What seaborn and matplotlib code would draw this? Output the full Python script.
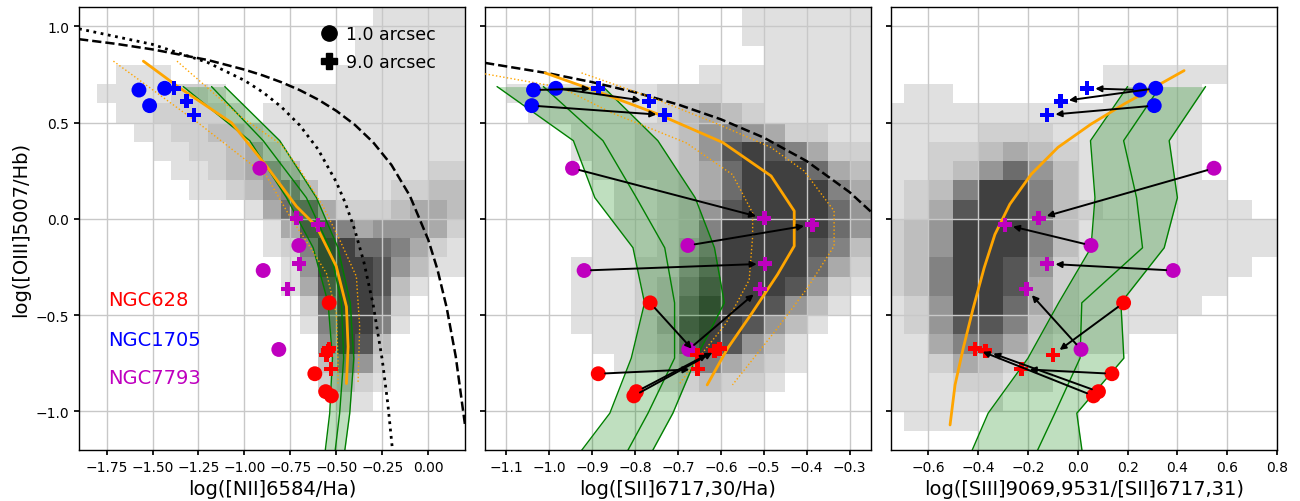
import numpy as np
import pandas as pd
import matplotlib
matplotlib.use("Agg")
import matplotlib.pyplot as plt
from matplotlib.colors import ListedColormap
from matplotlib.lines import Line2D
import seaborn as sns

# ---- HII regions: 1.0 arcsec aperture (circles) and 9.0 arcsec aperture (plus)
galaxy = ['NGC628'] * 4 + ['NGC1705'] * 3 + ['NGC7793'] * 4
o3hb_1 = [-0.436, -0.804, -0.897, -0.919, 0.669, 0.678, 0.588, 0.263, -0.138, -0.268, -0.678]
o3hb_9 = [-0.706, -0.780, -0.685, -0.674, 0.678, 0.610, 0.539, 0.003, -0.030, -0.233, -0.364]
n2ha_1 = [-0.539, -0.617, -0.558, -0.527, -1.574, -1.434, -1.516, -0.916, -0.704, -0.898, -0.813]
n2ha_9 = [-0.554, -0.530, -0.545, -0.540, -1.384, -1.315, -1.275, -0.717, -0.599, -0.701, -0.764]
s2ha_1 = [-0.765, -0.886, -0.797, -0.803, -1.037, -0.985, -1.041, -0.946, -0.677, -0.919, -0.675]
s2ha_9 = [-0.655, -0.654, -0.615, -0.603, -0.886, -0.768, -0.731, -0.499, -0.387, -0.497, -0.509]
s3s2_1 = [0.184, 0.137, 0.083, 0.063, 0.249, 0.313, 0.307, 0.547, 0.053, 0.383, 0.013]
s3s2_9 = [-0.100, -0.227, -0.371, -0.413, 0.037, -0.069, -0.123, -0.157, -0.293, -0.123, -0.207]

gal_colors = {'NGC628': '#ff0000', 'NGC1705': '#0000ff', 'NGC7793': '#bf00bf'}

# ---- demarcation curves
kew_nii_x = [-1.9, -1.7, -1.5, -1.2, -1.0, -0.9, -0.8, -0.7, -0.6, -0.5, -0.4, -0.3, -0.2, -0.1, 0.0, 0.05, 0.1, 0.15, 0.2]
kew_nii_y = [0.933, 0.909, 0.880, 0.825, 0.775, 0.745, 0.710, 0.669, 0.620, 0.561, 0.489, 0.398, 0.280, 0.120, -0.108, -0.262, -0.459, -0.716, -1.069]
kau_nii_x = [-1.9, -1.5, -1.2, -1.0, -0.9, -0.8, -0.7, -0.6, -0.5, -0.45, -0.4, -0.35, -0.3, -0.25, -0.22, -0.19]
kau_nii_y = [0.987, 0.906, 0.812, 0.719, 0.658, 0.582, 0.487, 0.362, 0.191, 0.080, -0.056, -0.225, -0.443, -0.733, -0.959, -1.242]
kew_sii_x = [-1.15, -1.0, -0.9, -0.8, -0.7, -0.6, -0.5, -0.4, -0.3, -0.25]
kew_sii_y = [0.810, 0.755, 0.710, 0.657, 0.594, 0.517, 0.422, 0.300, 0.139, 0.037]

# ---- orange model tracks
orn_nii_x = [-1.550, -1.357, -1.070, -0.880, -0.717, -0.608, -0.500, -0.445, -0.436, -0.445]
orn_nii_y = [0.819, 0.683, 0.499, 0.274, 0.065, -0.039, -0.247, -0.456, -0.664, -0.855]
orn_nii_lo_x = [-1.713, -1.242, -0.880, -0.753, -0.645, -0.554, -0.500, -0.491, -0.491]
orn_nii_lo_y = [0.819, 0.491, 0.222, 0.013, -0.143, -0.282, -0.490, -0.733, -0.855]
orn_nii_hi_x = [-1.367, -1.025, -0.799, -0.699, -0.572, -0.482, -0.391, -0.373, -0.382]
orn_nii_hi_y = [0.819, 0.534, 0.386, 0.256, 0.065, -0.108, -0.299, -0.560, -0.855]

orn_sii_x = [-1.010, -0.894, -0.747, -0.596, -0.483, -0.429, -0.429, -0.468, -0.530, -0.584, -0.632]
orn_sii_y = [0.758, 0.666, 0.544, 0.397, 0.223, 0.041, -0.141, -0.289, -0.497, -0.671, -0.862]
orn_sii_lo_x = [-1.150, -0.972, -0.855, -0.681, -0.573, -0.526, -0.526, -0.534, -0.588, -0.650, -0.696]
orn_sii_lo_y = [0.753, 0.682, 0.551, 0.395, 0.230, 0.031, -0.091, -0.317, -0.542, -0.716, -0.855]
orn_sii_hi_x = [-0.925, -0.762, -0.607, -0.483, -0.406, -0.336, -0.336, -0.398, -0.468, -0.573]
orn_sii_hi_y = [0.758, 0.631, 0.492, 0.371, 0.249, 0.041, -0.141, -0.358, -0.567, -0.862]

orn_s3_x = [0.427, 0.307, 0.187, 0.053, -0.080, -0.187, -0.273, -0.333, -0.376, -0.420, -0.460, -0.493, -0.513]
orn_s3_y = [0.770, 0.683, 0.597, 0.492, 0.371, 0.232, 0.076, -0.081, -0.254, -0.463, -0.671, -0.862, -1.070]

# ---- green model bands (shared O3Hb levels)
band_o3hb = [0.687, 0.406, 0.110, -0.150, -0.436, -0.723, -1.009, -1.296]
band_nii_lo = [-1.333, -0.971, -0.771, -0.626, -0.545, -0.521, -0.536, -0.572]
band_nii_mid = [-1.179, -0.898, -0.663, -0.536, -0.472, -0.460, -0.482, -0.518]
band_nii_hi = [-1.107, -0.808, -0.608, -0.491, -0.424, -0.405, -0.427, -0.467]
band_sii_lo = [-1.122, -0.944, -0.894, -0.805, -0.778, -0.809, -0.859, -0.957]
band_sii_mid = [-1.014, -0.875, -0.797, -0.731, -0.708, -0.708, -0.770, -0.840]
band_sii_hi = [-0.875, -0.747, -0.660, -0.615, -0.592, -0.658, -0.712, -0.782]
band_s3_lo = [0.200, 0.051, 0.069, 0.053, -0.077, -0.200, -0.360, -0.456]
band_s3_mid = [0.331, 0.184, 0.236, 0.260, 0.016, 0.009, -0.092, -0.196]
band_s3_hi = [0.513, 0.367, 0.400, 0.347, 0.173, 0.185, -0.004, 0.027]

# ---- background galaxy density (0.1 dex rows from y=1.1 down; '.' = empty, 1-9 = grey level)
dens_nii = [
    "................11111",
    "...............111111",
    "...............111111",
    "..111.........1111111",
    ".1111221...1111111111",
    "..1122221.11111111111",
    "...112233211111111111",
    "....11223421111111111",
    ".....1123453111111122",
    "......112356311112233",
    ".........147742223443",
    "..........14886455542",
    "..........12699776421",
    "...........1599985311",
    "...........14899831..",
    "............279972...",
    "............169961...",
    ".............5983....",
    ".............3652....",
    ".............2321....",
    "..............11.....",
    ".....................",
    ".....................",
]
dens_sii = [
    "............111111",
    "............111111",
    ".............11111",
    "..........11111111",
    ".11111112221111111",
    "..1111112343211111",
    "....11122356542211",
    "....11122358986422",
    ".....1122347999743",
    "......112347999964",
    "......112358999975",
    ".....1112369999975",
    ".....1112469999863",
    "....11122579999742",
    "....11123689998521",
    "....1112379998531.",
    "....111248998531..",
    ".....1123798531...",
    "......112464321...",
    "........123221....",
    ".........1111.....",
    "..................",
    "..................",
]
dens_s3 = [
    "................",
    "................",
    "................",
    ".........11111..",
    ".11......1111...",
    "1111111111111...",
    "1111222111111...",
    "1122343211111...",
    "1123575311111...",
    "12369963111111..",
    "124899632111111.",
    "2359996311111111",
    "2359996311111111",
    "236998521111111.",
    "23699842111111..",
    "1259974211111...",
    "125886321111....",
    "1146642111......",
    "11243211........",
    "1112211.........",
    "11111...........",
    ".111............",
    "................",
]

df = pd.DataFrame({'galaxy': galaxy, 'o3hb_1': o3hb_1, 'o3hb_9': o3hb_9,
                   'n2ha_1': n2ha_1, 'n2ha_9': n2ha_9, 's2ha_1': s2ha_1, 's2ha_9': s2ha_9,
                   's3s2_1': s3s2_1, 's3s2_9': s3s2_9})

sns.set_theme(style="ticks", color_codes=False, rc={
    'axes.grid': True, 'grid.color': '#c8c8c8', 'grid.linewidth': 1.0,
    'axes.edgecolor': 'black', 'axes.linewidth': 1.0,
    'xtick.labelsize': 10, 'ytick.labelsize': 10, 'axes.labelsize': 14,
    'xtick.major.size': 3.5, 'ytick.major.size': 3.5,
    'xtick.color': 'black', 'ytick.color': 'black', 'text.color': 'black',
    'axes.labelcolor': 'black',
})
plt.rcParams['font.family'] = ['DejaVu Sans']

grey_cmap = ListedColormap(['#e0e0e0', '#d0d0d0', '#bebebe', '#aaaaaa', '#969696',
                            '#828282', '#6c6c6c', '#565656', '#404040'])


def draw_density(ax, rows, x0, dx):
    ncol = max(len(r) for r in rows)
    grid = np.array([[0 if c == '.' else int(c) for c in r.ljust(ncol, '.')] for r in rows], float)
    grid = np.ma.masked_equal(grid[::-1], 0)
    x_edges = x0 + dx * np.arange(ncol + 1)
    y_edges = 1.1 - 0.1 * np.arange(len(rows) + 1)[::-1]
    ax.pcolormesh(x_edges, y_edges, grid, cmap=grey_cmap, vmin=0.5, vmax=9.5, zorder=0)


def draw_band(ax, lo, mid, hi):
    ax.fill_betweenx(band_o3hb, lo, hi, color='green', alpha=0.25, lw=0, zorder=2)
    for xs in (lo, mid, hi):
        sns.lineplot(x=xs, y=band_o3hb, sort=False, estimator=None, color='green', lw=1, ax=ax, zorder=2.2)


def draw_points(ax, xc, xp, arrows):
    if arrows:
        for x1, y1, x9, y9 in zip(df[xc], df['o3hb_1'], df[xp], df['o3hb_9']):
            ax.annotate('', xy=(x9, y9), xytext=(x1, y1), zorder=5,
                        arrowprops=dict(arrowstyle='-|>', color='black', lw=1.4,
                                        mutation_scale=9, shrinkA=5, shrinkB=6))
    sns.scatterplot(data=df, x=xc, y='o3hb_1', hue='galaxy', palette=gal_colors, marker='o',
                    s=115, linewidth=0, legend=False, ax=ax, zorder=4)
    sns.scatterplot(data=df, x=xp, y='o3hb_9', hue='galaxy', palette=gal_colors, marker='P',
                    s=100, linewidth=0, legend=False, ax=ax, zorder=4)


fig, axes = plt.subplots(1, 3, figsize=(13, 5.02), dpi=100, sharey=True)
fig.subplots_adjust(left=0.0608, right=0.9823, bottom=0.1016, top=0.984, wspace=0.052)

# panel 1: BPT [NII]
ax = axes[0]
ax.set_axisbelow('line')
draw_density(ax, dens_nii, -1.9, 0.1)
draw_band(ax, band_nii_lo, band_nii_mid, band_nii_hi)
sns.lineplot(x=kew_nii_x, y=kew_nii_y, sort=False, estimator=None, color='black', lw=1.8, ls='--', ax=ax, zorder=3)
sns.lineplot(x=kau_nii_x, y=kau_nii_y, sort=False, estimator=None, color='black', lw=2, ls=':', ax=ax, zorder=3)
sns.lineplot(x=orn_nii_lo_x, y=orn_nii_lo_y, sort=False, estimator=None, color='orange', lw=1, ls=':', ax=ax, zorder=3)
sns.lineplot(x=orn_nii_hi_x, y=orn_nii_hi_y, sort=False, estimator=None, color='orange', lw=1, ls=':', ax=ax, zorder=3)
sns.lineplot(x=orn_nii_x, y=orn_nii_y, sort=False, estimator=None, color='orange', lw=2, ax=ax, zorder=3)
draw_points(ax, 'n2ha_1', 'n2ha_9', arrows=False)
ax.text(-1.742, -0.421, 'NGC628', color=gal_colors['NGC628'], fontsize=14, va='center')
ax.text(-1.742, -0.624, 'NGC1705', color=gal_colors['NGC1705'], fontsize=14, va='center')
ax.text(-1.742, -0.822, 'NGC7793', color=gal_colors['NGC7793'], fontsize=14, va='center')
handles = [Line2D([], [], marker='o', color='black', ls='', markersize=11, label='1.0 arcsec'),
           Line2D([], [], marker='P', color='black', ls='', markersize=11, label='9.0 arcsec')]
ax.legend(handles=handles, loc='upper right', bbox_to_anchor=(0.965, 0.995), frameon=False,
          fontsize=12.5, handlelength=1.0, handletextpad=0.45, labelspacing=0.6)
ax.set_xlim(-1.9, 0.2)
ax.set_xticks([-1.75, -1.5, -1.25, -1.0, -0.75, -0.5, -0.25, 0.0])
ax.set_xlabel('log([NII]6584/Ha)')
ax.set_ylabel('log([OIII]5007/Hb)')

# panel 2: [SII]
ax = axes[1]
ax.set_axisbelow('line')
draw_density(ax, dens_sii, -1.15, 0.05)
draw_band(ax, band_sii_lo, band_sii_mid, band_sii_hi)
sns.lineplot(x=kew_sii_x, y=kew_sii_y, sort=False, estimator=None, color='black', lw=1.8, ls='--', ax=ax, zorder=3)
sns.lineplot(x=orn_sii_lo_x, y=orn_sii_lo_y, sort=False, estimator=None, color='orange', lw=1, ls=':', ax=ax, zorder=3)
sns.lineplot(x=orn_sii_hi_x, y=orn_sii_hi_y, sort=False, estimator=None, color='orange', lw=1, ls=':', ax=ax, zorder=3)
sns.lineplot(x=orn_sii_x, y=orn_sii_y, sort=False, estimator=None, color='orange', lw=2, ax=ax, zorder=3)
draw_points(ax, 's2ha_1', 's2ha_9', arrows=True)
ax.set_xlim(-1.15, -0.25)
ax.set_xticks([-1.1, -1.0, -0.9, -0.8, -0.7, -0.6, -0.5, -0.4, -0.3])
ax.set_xlabel('log([SII]6717,30/Ha)')

# panel 3: [SIII]/[SII]
ax = axes[2]
ax.set_axisbelow('line')
draw_density(ax, dens_s3, -0.8, 0.1)
draw_band(ax, band_s3_lo, band_s3_mid, band_s3_hi)
sns.lineplot(x=orn_s3_x, y=orn_s3_y, sort=False, estimator=None, color='orange', lw=2, ax=ax, zorder=3)
draw_points(ax, 's3s2_1', 's3s2_9', arrows=True)
ax.set_xlim(-0.75, 0.8)
ax.set_xticks([-0.6, -0.4, -0.2, 0.0, 0.2, 0.4, 0.6, 0.8])
ax.set_xlabel('log([SIII]9069,9531/[SII]6717,31)')

for ax in axes:
    ax.set_ylim(-1.2, 1.1)
    ax.set_yticks([-1.0, -0.5, 0.0, 0.5, 1.0])

fig.savefig('out.png', dpi=100)
